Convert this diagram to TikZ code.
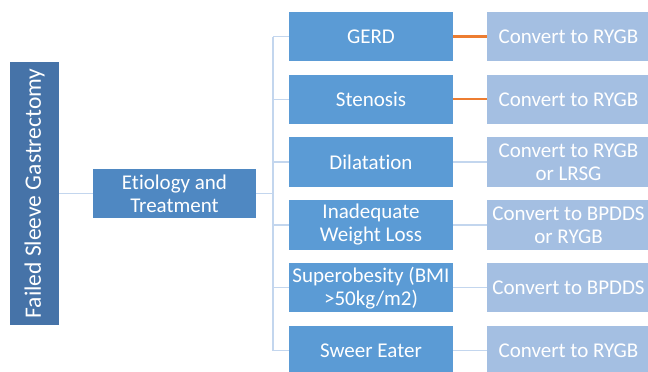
\documentclass[tikz,border=0pt]{standalone}
\usepackage{fontspec}
\setmainfont{Carlito}[Ligatures=NoCommon]
\usetikzlibrary{calc}
\definecolor{rootblue}{HTML}{4673A8}
\definecolor{midblue}{HTML}{4F88C2}
\definecolor{causeblue}{HTML}{5B9BD5}
\definecolor{treatblue}{HTML}{A4BFE2}
\definecolor{linkblue}{HTML}{C3D6EE}
\definecolor{linkorange}{HTML}{ED7D31}
\tikzset{
    box/.style={rectangle, text=white, align=center, inner sep=0pt,
      font=\fontsize{21bp}{23bp}\selectfont},
    rootbox/.style={box, fill=rootblue, rotate=90, minimum width=263bp, minimum height=49bp,
      font=\fontsize{23.5bp}{26bp}\selectfont},
    midbox/.style={box, fill=midblue, minimum width=163bp, minimum height=49bp},
    causebox/.style={box, fill=causeblue, minimum width=164bp, minimum height=49.5bp},
    treatbox/.style={box, fill=treatblue, minimum width=163bp, minimum height=49.5bp},
    link/.style={draw=linkblue, line width=1.3bp},
    hotlink/.style={draw=linkorange, line width=#1},
  }
\begin{document}
\begin{tikzpicture}[x=1bp,y=-1bp]
                                    \useasboundingbox (0,0) rectangle (648,371);
                                    %racine et niveau 1
                                    \node[rootbox](root) at (34.5,193.5) {Failed Sleeve Gastrectomy};
                                    \node[midbox](mid) at (174.5,193.5) {Etiology and\\Treatment};
                                    \coordinate (fork) at (273,193.5);
                                    %causes et traitements
                                    \foreach \cause/\treat [count=\i from 0] in {
                                        {GERD}/{Convert to RYGB},
                                        {Stenosis}/{Convert to RYGB},
                                        {Dilatation}/{Convert to RYGB\\or LRSG},
                                        {Inadequate\\Weight Loss}/{Convert to BPDDS\\or RYGB},
                                        {Superobesity (BMI\\>50kg/m2)}/{Convert to BPDDS},
                                        {Sweer Eater}/{Convert to RYGB}}{
                                      \node[causebox](c\i) at (371,36.5+62.8*\i) {\cause};
                                      \node[treatbox](t\i) at (568.5,36.5+62.8*\i) {\treat};
                                    }
                                    %liens
                                    \draw [link] (root) -- (mid);
                                    \draw [link] (mid) -- (fork);
                                    \draw [link] (c0.west -| fork) -- (c5.west -| fork);
                                    \foreach \i in {0,...,5}
                                      \draw [link] (c\i.west -| fork) -- (c\i.west);
                                    \foreach \i in {2,...,5}
                                      \draw [link] (c\i) -- (t\i);
                                    \draw [hotlink=3bp] (c0) -- (t0);
                                    \draw [hotlink=2bp] (c1) -- (t1);
\end{tikzpicture}
\end{document}
